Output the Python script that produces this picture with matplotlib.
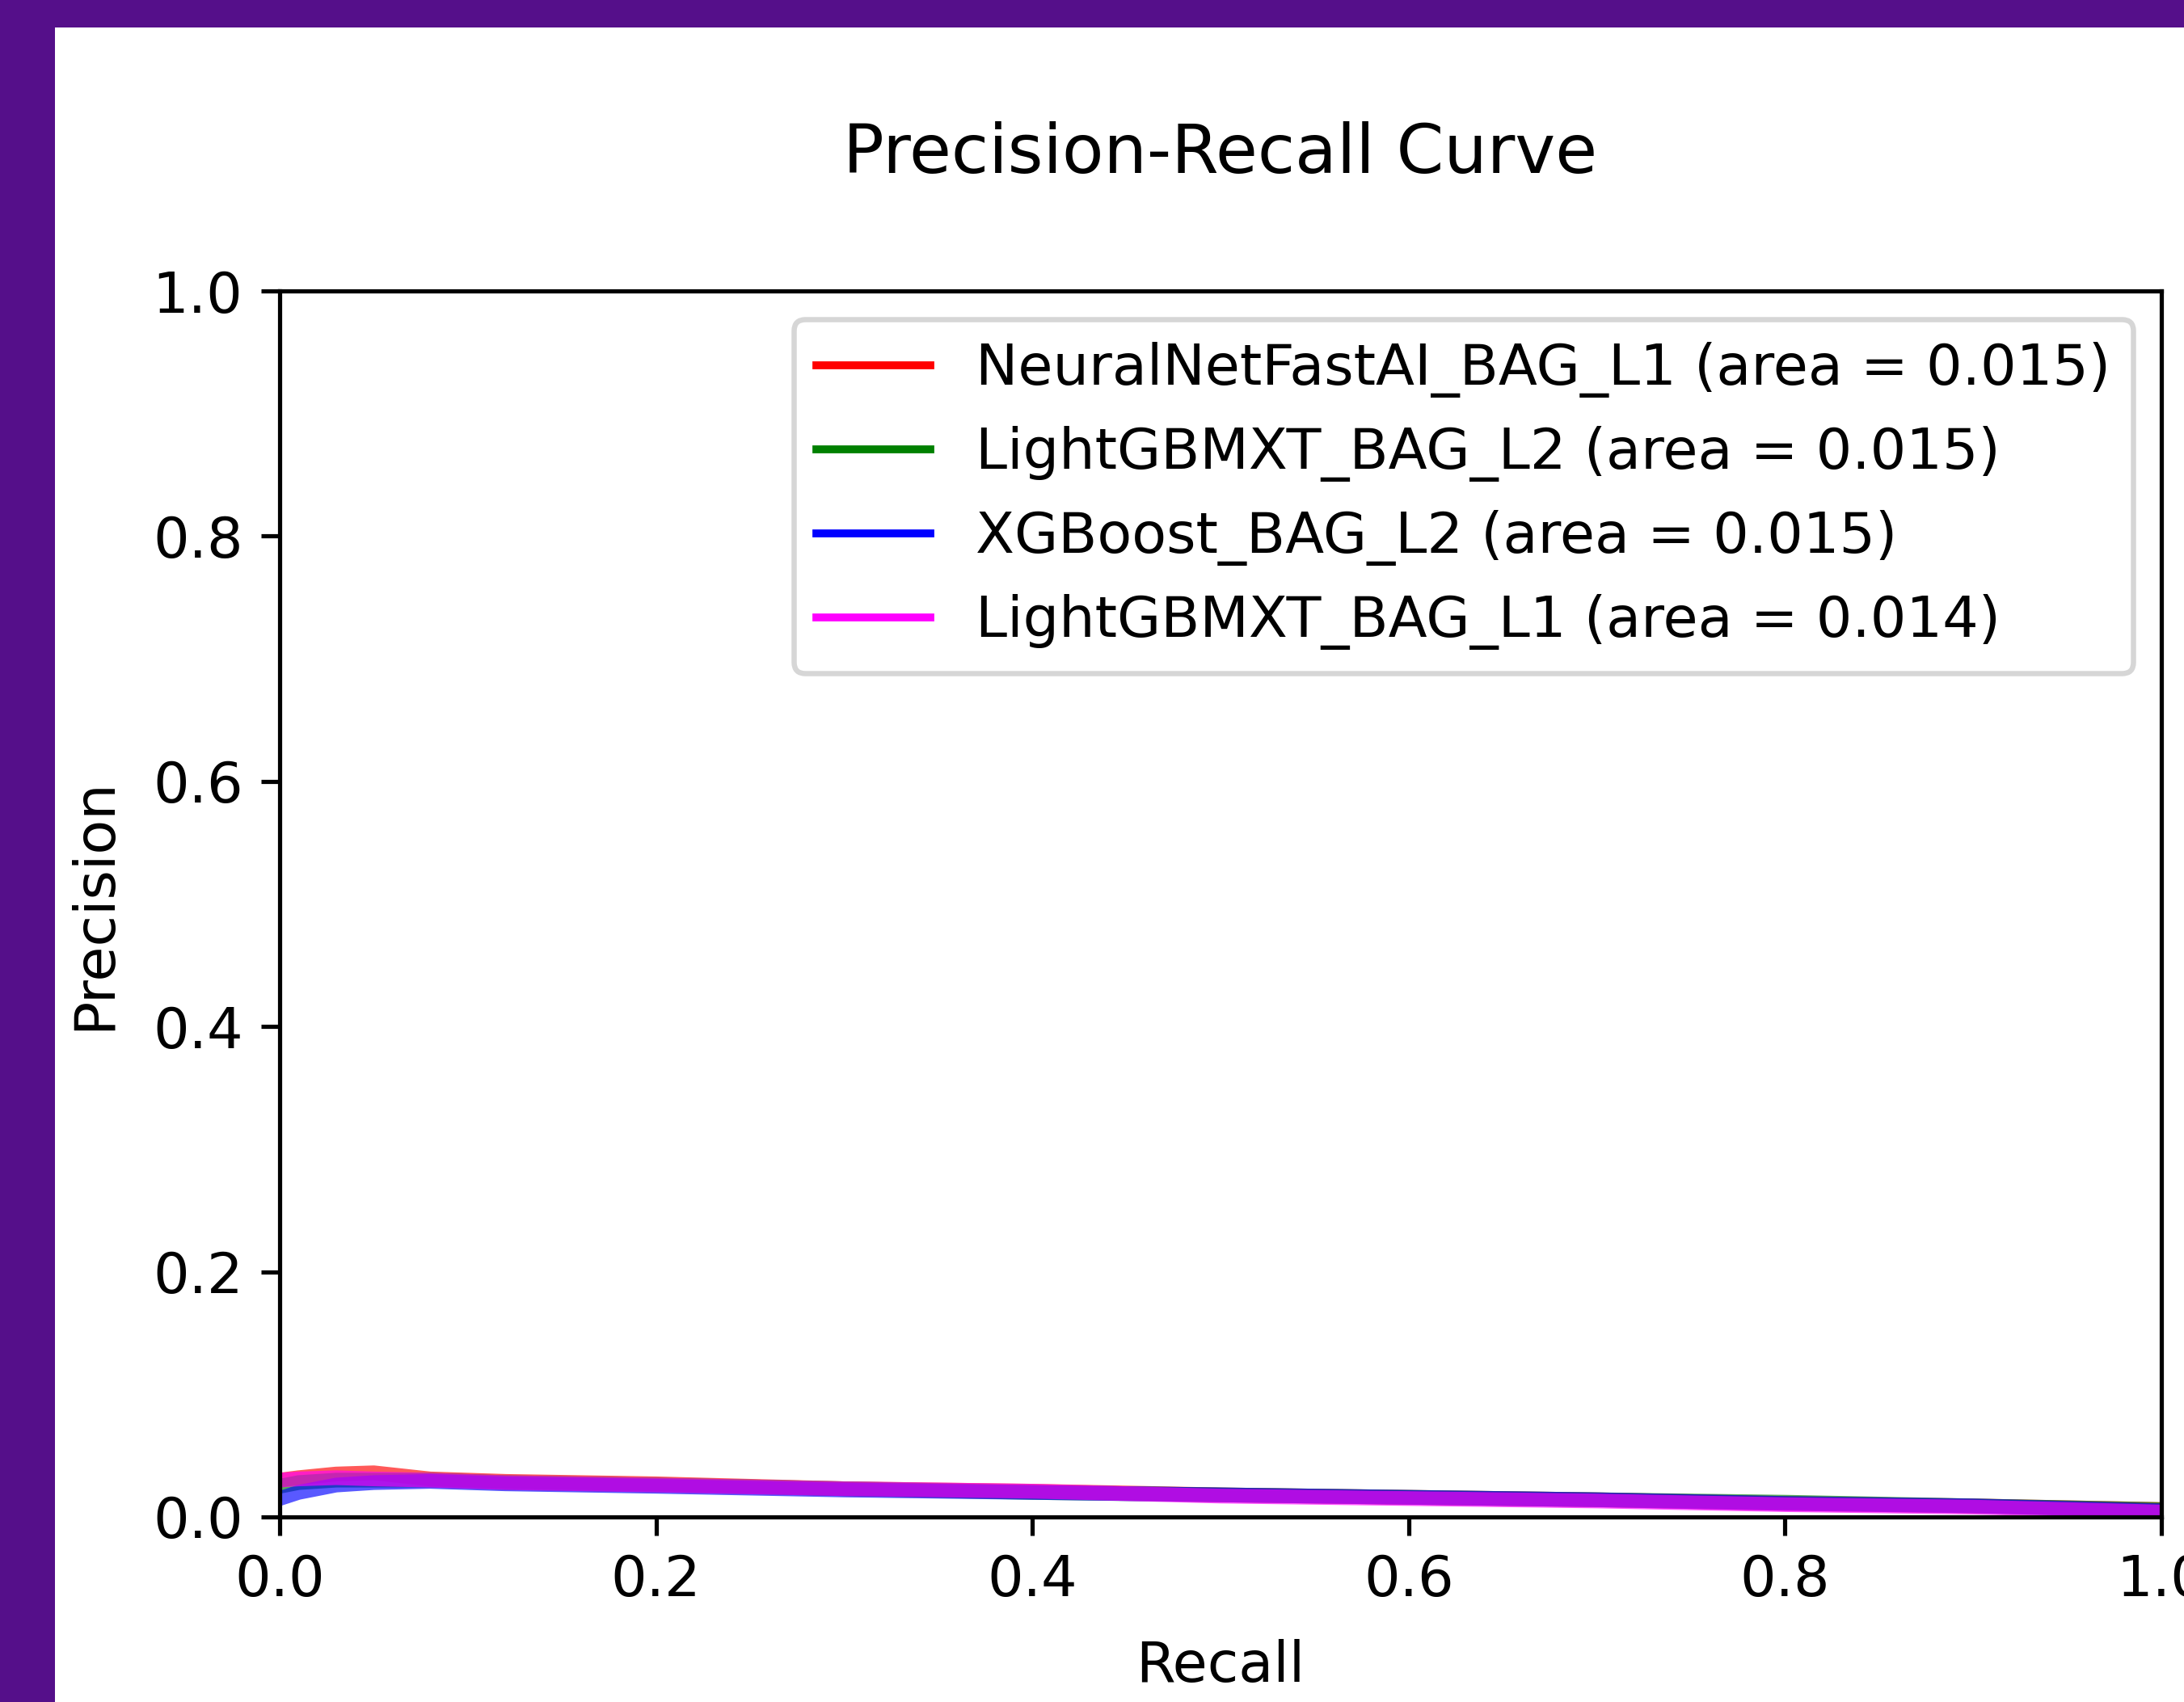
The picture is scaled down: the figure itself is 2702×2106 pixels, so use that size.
import numpy as np
import matplotlib
matplotlib.use("Agg")
import matplotlib.pyplot as plt
from matplotlib.patches import Rectangle

# values
recall = [0.0, 0.01, 0.03, 0.05, 0.08, 0.12, 0.2, 0.3, 0.4, 0.5, 0.6, 0.7, 0.8, 0.9, 1.0]

prec_nn = [0.030, 0.032, 0.035, 0.036, 0.031, 0.029, 0.027, 0.023, 0.021, 0.018, 0.016, 0.014, 0.011, 0.009, 0.006]
prec_lgb_l2 = [0.025, 0.028, 0.030, 0.030, 0.030, 0.028, 0.026, 0.023, 0.020, 0.018, 0.016, 0.014, 0.012, 0.009, 0.006]
prec_xgb = [0.015, 0.020, 0.026, 0.028, 0.029, 0.027, 0.025, 0.022, 0.020, 0.018, 0.016, 0.014, 0.011, 0.009, 0.005]
prec_lgb_l1 = [0.030, 0.031, 0.032, 0.031, 0.030, 0.028, 0.026, 0.023, 0.021, 0.017, 0.015, 0.013, 0.010, 0.008, 0.004]

model_names = ['NeuralNetFastAI_BAG_L1', 'LightGBMXT_BAG_L2', 'XGBoost_BAG_L2', 'LightGBMXT_BAG_L1']
areas = [0.015, 0.015, 0.015, 0.014]
colors = ['red', 'green', 'blue', 'magenta']
curves = [prec_nn, prec_lgb_l2, prec_xgb, prec_lgb_l1]

plt.rcParams['font.size'] = 10.8

dpi = 468
fig = plt.figure(figsize=(2702 / dpi, 2106 / dpi), dpi=dpi)
fig.patch.set_facecolor('#550F8A')
# white page area of the screenshot
fig.patches.append(Rectangle((68 / 2702, 0), 1, 1 - 34 / 2106, transform=fig.transFigure,
                             facecolor='white', edgecolor='none', zorder=-10))

ax = fig.add_axes([346 / 2702, 1 - 1877 / 2106, (2674 - 346) / 2702, (1877 - 360) / 2106])

for name, area, c, p in zip(model_names, areas, colors, curves):
    ax.plot(recall, p, color=c, lw=2.8, alpha=0.65, label=f'{name} (area = {area:.3f})')

ax.set_xlim(0, 1)
ax.set_ylim(0, 1)
ax.set_xticks([0.0, 0.2, 0.4, 0.6, 0.8, 1.0])
ax.set_yticks([0.0, 0.2, 0.4, 0.6, 0.8, 1.0])
ax.set_xlabel('Recall', labelpad=6)
ax.set_ylabel('Precision', labelpad=6)
ax.set_title('Precision-Recall Curve', pad=22.5)

leg = ax.legend(loc='upper right')
for h in leg.get_lines():
    h.set_alpha(1)
    h.set_linewidth(1.5)

fig.savefig('out.png', dpi=dpi)
